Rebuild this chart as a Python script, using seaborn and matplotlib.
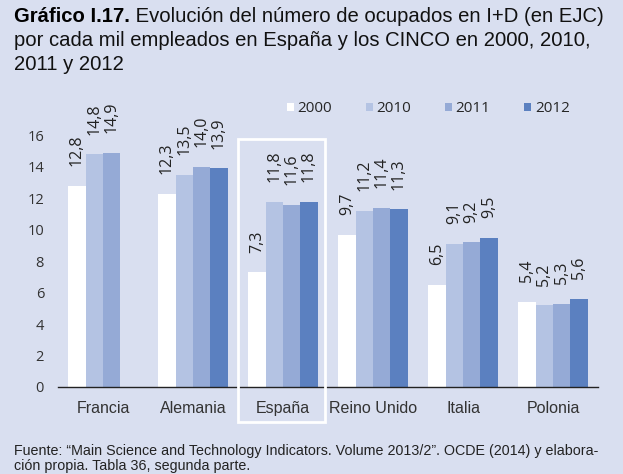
import numpy as np
import pandas as pd
import seaborn as sns
import matplotlib.pyplot as plt
from matplotlib.patches import Rectangle
from matplotlib import font_manager

# =======================
# Datos
# =======================
paises = ['Francia', 'Alemania', 'España', 'Reino Unido', 'Italia', 'Polonia']
anios = ['2000', '2010', '2011', '2012']
v2000 = [12.8, 12.3, 7.3, 9.7, 6.5, 5.4]
v2010 = [14.8, 13.5, 11.8, 11.2, 9.1, 5.2]
v2011 = [14.9, 14.0, 11.6, 11.4, 9.2, 5.3]
v2012 = [np.nan, 13.9, 11.8, 11.3, 9.5, 5.6]

colores = ['#ffffff', '#b4c3e3', '#95aad6', '#5b80c0']
fondo = '#d9dff0'

df = pd.DataFrame({'pais': paises * 4,
                   'anio': sum([[a] * len(paises) for a in anios], []),
                   'valor': v2000 + v2010 + v2011 + v2012})

# fuentes
instaladas = {f.name for f in font_manager.fontManager.ttflist}
estrecha = 'Liberation Sans Narrow' if 'Liberation Sans Narrow' in instaladas else 'Liberation Sans'
normal = 'Open Sans'

sns.set_style('white')
plt.rcParams['font.family'] = [normal, 'DejaVu Sans']

# =======================
# Figura
# =======================
fig = plt.figure(figsize=(6.23, 4.74), dpi=100, facecolor=fondo)
ax = fig.add_axes([58 / 623, 1 - 387 / 474, 540 / 623, 18 * 15.72 / 474])
ax.set_facecolor(fondo)

sns.barplot(data=df, x='pais', y='valor', hue='anio', hue_order=anios,
            palette=colores, width=0.77, gap=0, saturation=1,
            edgecolor='none', linewidth=0, ax=ax, legend=True)

ax.set_xlim(-0.5, 5.5)
ax.set_ylim(0, 18)
ax.set_yticks(range(0, 17, 2))
ax.set_xlabel('')
ax.set_ylabel('')
for s in ['top', 'right', 'left']:
    ax.spines[s].set_visible(False)
ax.spines['bottom'].set_color('#222222')
ax.spines['bottom'].set_linewidth(1)
ax.tick_params(axis='both', length=0, colors='#333333')
ax.tick_params(axis='y', labelsize=10.5, pad=10)
for lab in ax.get_xticklabels():
    lab.set_fontfamily(estrecha)
    lab.set_fontsize(11.5)
ax.tick_params(axis='x', pad=10)

# etiquetas de valores (bastante separadas de la barra, como en el original)
for cont in ax.containers:
    for barra in cont:
        h = barra.get_height()
        if np.isnan(h):
            continue
        ax.text(barra.get_x() + barra.get_width() / 2, h + 1.25,
                f'{h:.1f}'.replace('.', ','), rotation=90, ha='center',
                va='bottom', fontsize=11.5, color='#222222', clip_on=False)

# recuadro España
ax.add_patch(Rectangle((1.5, -2.25), 0.97, 18.0, fill=False, edgecolor='white',
                       linewidth=2, clip_on=False, zorder=5))

# leyenda
handles, labels = ax.get_legend_handles_labels()
ax.legend(handles, labels, ncol=4, loc='upper left', bbox_to_anchor=(0.424, 1.01),
          frameon=False, fontsize=11, handlelength=0.45, handleheight=0.45,
          handletextpad=0.25, columnspacing=2.2, borderpad=0, borderaxespad=0)

# titulo
tam = 14.6
t = fig.text(14 / 623, 1 - 22 / 474, 'Gráfico I.17.', fontfamily=estrecha,
             fontweight='bold', fontsize=tam, color='black')
ax.annotate(' Evolución del número de ocupados en I+D (en EJC)', xy=(1, 0),
            xycoords=t, va='bottom', fontfamily=estrecha, fontsize=tam, color='#111111')
fig.text(14 / 623, 1 - 46 / 474, 'por cada mil empleados en España y los CINCO en 2000, 2010,',
         fontfamily=estrecha, fontsize=tam, color='#111111')
fig.text(14 / 623, 1 - 70 / 474, '2011 y 2012', fontfamily=estrecha, fontsize=tam,
         color='#111111')

# fuente
fig.text(14 / 623, 1 - 455 / 474,
         'Fuente: “Main Science and Technology Indicators. Volume 2013/2”. OCDE (2014) y elabora-',
         fontfamily=estrecha, fontsize=10.3, color='#222222')
fig.text(14 / 623, 1 - 470 / 474, 'ción propia. Tabla 36, segunda parte.',
         fontfamily=estrecha, fontsize=10.3, color='#222222')

fig.savefig('out.png', dpi=100, facecolor=fondo)
